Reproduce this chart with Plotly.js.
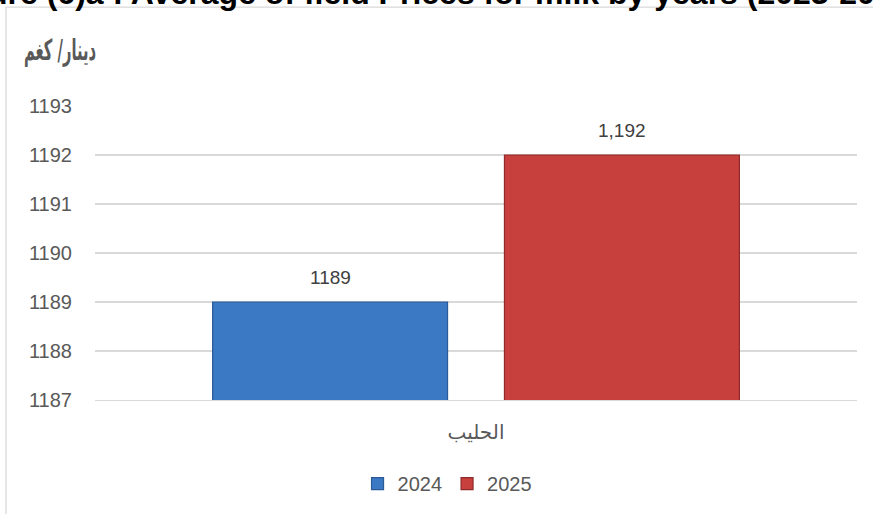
<!DOCTYPE html>
<html><head><meta charset="utf-8">
<script src="https://cdn.plot.ly/plotly-3.0.1.min.js"></script>
<style>html,body{margin:0;padding:0;background:#fff}#chart{width:873px;height:514px}</style>
</head><body><div id="chart"></div>
<script>
// ---- data ----
const categories = ['الحليب'];
const years = ['2024', '2025'];
const values2024 = [1189];
const values2025 = [1192];
const dataLabels2024 = ['1189'];
const dataLabels2025 = ['1,192'];
const yTickValues = [1187, 1188, 1189, 1190, 1191, 1192, 1193];
const yTickLabels = ['1187', '1188', '1189', '1190', '1191', '1192', '1193'];
const chartTitle = 'Figure (6)a : Average of field Prices for milk by years (2023-2024)';
const unitLabel = 'دينار/ كغم';

// ---- styles ----
const barGap = 0.234;
const barGroupGap = 0.195;
const series = [
  {name: years[0], y: values2024, labels: dataLabels2024, color: '#3c79c4', line: '#2c5a96'},
  {name: years[1], y: values2025, labels: dataLabels2025, color: '#c8403e', line: '#8e2a29'}
];

const data = series.map(s => ({
  type: 'bar', name: s.name, x: categories, y: s.y,
  marker: {color: s.color, line: {color: s.line, width: 1.2}},
  hoverinfo: 'skip'
}));

// data labels as annotations placed over each bar of the group
const slot = (1 - barGap) / series.length;
const annotations = [];
series.forEach((s, i) => {
  s.y.forEach((v, j) => {
    annotations.push({
      xref: 'x', yref: 'y', x: j - (1 - barGap) / 2 + slot * (i + 0.5), y: v,
      text: s.labels[j], showarrow: false, yanchor: 'bottom', yshift: 12,
      font: {family: 'Liberation Sans, Arial, sans-serif', size: 19, color: '#404040'}
    });
  });
});
const unitIndex = annotations.length;
annotations.push({
  xref: 'paper', yref: 'paper', x: -0.0958, y: 1.192, xanchor: 'left', yanchor: 'middle',
  text: '<b>' + unitLabel + '</b>', showarrow: false,
  font: {family: 'DejaVu Sans Condensed, DejaVu Sans, sans-serif', size: 29, color: '#595959'}
});
annotations.push({
  xref: 'paper', yref: 'paper', x: -0.206, y: 1.384, xanchor: 'left', yanchor: 'middle',
  text: '<b>' + chartTitle + '</b>', showarrow: false,
  font: {family: 'Liberation Sans, Arial, sans-serif', size: 32, color: '#000'}
});

const layout = {
  width: 873, height: 514,
  margin: {l: 95, r: 16, t: 106, b: 113, pad: 0},
  paper_bgcolor: '#fff', plot_bgcolor: '#fff',
  barmode: 'group', bargap: barGap, bargroupgap: barGroupGap,
  showlegend: true,
  legend: {orientation: 'h', x: 0.462, xanchor: 'center', y: -0.28, yanchor: 'middle',
    font: {family: 'Liberation Sans, Arial, sans-serif', size: 20, color: '#595959'},
    itemwidth: 30, traceorder: 'normal'},
  xaxis: {type: 'category', showline: true, linecolor: '#d9d9d9', linewidth: 1.3,
    ticks: '', ticklabelstandoff: 14,
    tickfont: {family: 'DejaVu Sans, sans-serif', size: 20, color: '#595959'}},
  yaxis: {range: [1187, 1193], tickvals: yTickValues, ticktext: yTickLabels,
    gridcolor: '#d9d9d9', gridwidth: 1.3, zeroline: false, showline: false,
    ticks: '', ticklabelstandoff: 22,
    tickfont: {family: 'Liberation Sans, Arial, sans-serif', size: 20, color: '#595959'}},
  shapes: [{type: 'rect', xref: 'paper', yref: 'paper', x0: -0.1168, x1: 1.05, y0: -0.45, y1: 1.336,
    line: {color: '#d9d9d9', width: 1.3}, fillcolor: 'rgba(0,0,0,0)', layer: 'below'}],
  annotations: annotations
};

const gd = document.getElementById('chart');
Plotly.newPlot(gd, data, layout, {staticPlot: true, displayModeBar: false}).then(function () {
  // compress the Arabic unit label horizontally to match the reference's narrow face
  const ann = gd.querySelectorAll('.annotation')[unitIndex];
  if (ann) {
    const txt = ann.querySelector('text.annotation-text');
    if (txt) {
      const bb = txt.getBBox();
      const sx = 72 / bb.width;
      const prev = txt.getAttribute('transform') || '';
      txt.setAttribute('transform', prev + ' translate(' + bb.x + ',0) scale(' + sx + ',1) translate(' + (-bb.x) + ',0)');
    }
  }
});
</script>
</body></html>
